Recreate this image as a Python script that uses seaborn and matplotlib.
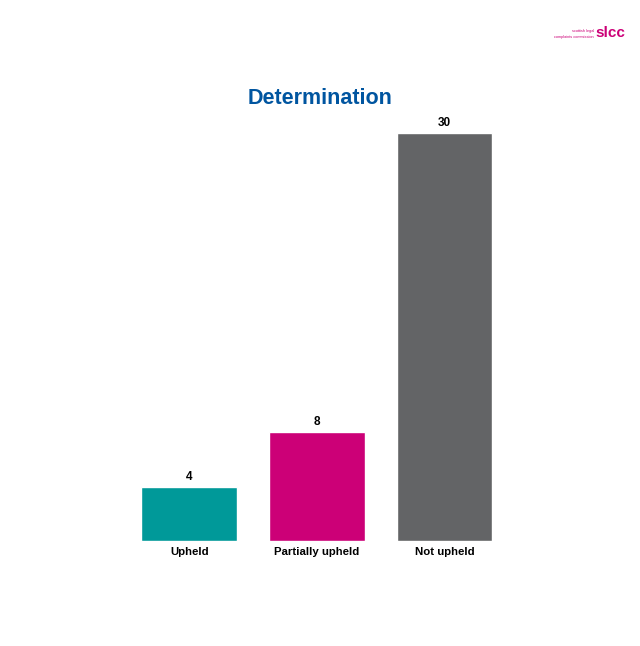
import matplotlib
matplotlib.use("Agg")
import matplotlib.pyplot as plt
import seaborn as sns
import pandas as pd

categories = ["Upheld", "Partially upheld", "Not upheld"]
counts = [4, 8, 30]
bar_colors = ["#009999", "#CC0077", "#636466"]

sns.set_style("white")
plt.rcParams["font.family"] = ["Liberation Sans", "DejaVu Sans"]
plt.rcParams["text.color"] = "black"
plt.rcParams["xtick.color"] = "black"

df = pd.DataFrame({"category": categories, "count": counts})

fig = plt.figure(figsize=(6.4, 6.46), dpi=100)
ax = fig.add_axes([0.196, 0.1625, 0.598, 0.6316])

sns.barplot(data=df, x="category", y="count", hue="category", palette=bar_colors,
            width=0.75, legend=False, saturation=1, ax=ax)

for i, v in enumerate(counts):
    ax.text(i, v + 0.3, str(v), ha="center", va="bottom", fontsize=8.5,
            fontweight="bold", color="black", clip_on=False)

ax.set_xlim(-0.5, 2.5)
ax.set_ylim(0, 30)
ax.set_yticks([])
ax.set_xlabel("")
ax.set_ylabel("")
ax.tick_params(axis="x", length=0, pad=4.5)
for lbl in ax.get_xticklabels():
    lbl.set_fontsize(8.2)
    lbl.set_fontweight("bold")
    lbl.set_color("black")
sns.despine(ax=ax, left=True, bottom=True)

fig.text(0.5, 1 - 99 / 646, "Determination", ha="center", va="center",
         fontsize=15.5, fontweight="bold", color="#0055A0")

# logo in the top right corner
fig.text(594 / 640, 1 - 31 / 646, "scottish legal", ha="right", va="center",
         fontsize=2.8, color="#CC0077")
fig.text(594 / 640, 1 - 37 / 646, "complaints commission", ha="right", va="center",
         fontsize=2.8, color="#CC0077")
fig.text(595 / 640, 1 - 33 / 646, "slcc", ha="left", va="center",
         fontsize=11, fontweight="bold", color="#CC0077")

fig.savefig("out.png", dpi=100, facecolor="white")
